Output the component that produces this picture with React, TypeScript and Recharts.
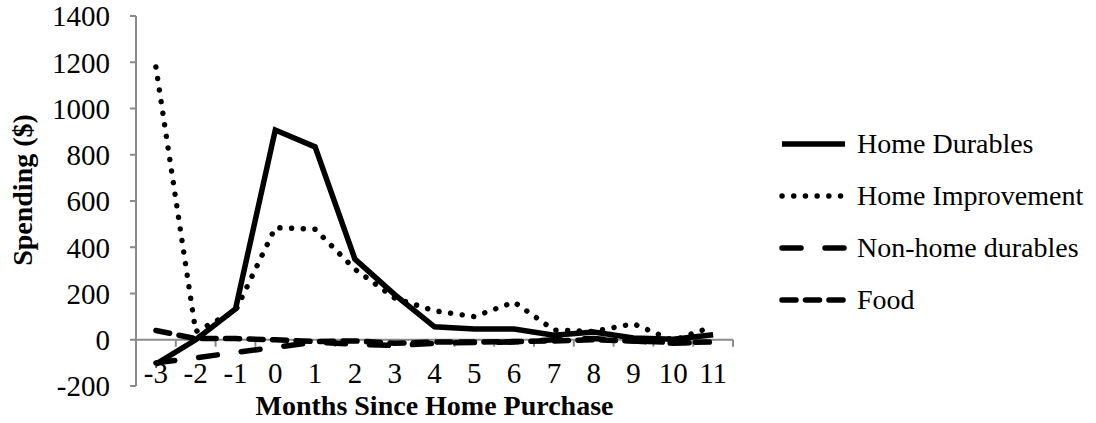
import React from 'react';
import { LineChart, Line, XAxis, YAxis, ReferenceLine, Legend, Label } from 'recharts';

const months = [-3, -2, -1, 0, 1, 2, 3, 4, 5, 6, 7, 8, 9, 10, 11];
const homeDurables = [-105, 0, 133, 907, 834, 349, 195, 56, 46, 46, 20, 33, 8, 2, 22];
const homeImprovement = [1180, 35, 125, 485, 478, 305, 180, 125, 100, 163, 42, 36, 69, -3, 58];
const nonHomeDurables = [-100, -78, -55, -33, -10, -20, -25, -15, -12, -10, 0, 5, -5, -15, -10];
const food = [40, 5, 5, 0, -8, -5, -15, -10, -10, -8, -5, 0, -5, -12, -10];
const yTicks = [-200, 0, 200, 400, 600, 800, 1000, 1200, 1400];

const data = months.map((m, i) => ({
  month: m,
  homeDurables: homeDurables[i],
  homeImprovement: homeImprovement[i],
  nonHomeDurables: nonHomeDurables[i],
  food: food[i],
}));

const FONT = "'Liberation Serif', Cambria, serif";
const AXIS = '#8a8a8a';

const series = [
  { key: 'homeDurables', name: 'Home Durables', dash: undefined, width: 5.5, cap: 'butt' },
  { key: 'homeImprovement', name: 'Home Improvement', dash: '0.1 11.6', width: 5.4, cap: 'round' },
  { key: 'nonHomeDurables', name: 'Non-home durables', dash: '19 24', width: 5.5, cap: 'round' },
  { key: 'food', name: 'Food', dash: '14 9.5', width: 5.5, cap: 'round' },
];

const XTick = ({ x, y, payload }: any) => (
  <text x={x} y={y - 3} textAnchor="middle" fontFamily={FONT} fontSize={29} fill="#000">
    {payload.value}
  </text>
);

const XTitle = ({ viewBox }: any) => (
  <text
    x={viewBox.x + viewBox.width / 2}
    y={viewBox.y + 29}
    textAnchor="middle"
    fontFamily={FONT}
    fontSize={28}
    fontWeight="bold"
    fill="#000"
  >
    Months Since Home Purchase
  </text>
);

const YTitle = ({ viewBox }: any) => {
  const cx = viewBox.x + 22;
  const cy = viewBox.y + viewBox.height / 2 - 11;
  return (
    <text
      x={cx}
      y={cy}
      transform={`rotate(-90, ${cx}, ${cy})`}
      textAnchor="middle"
      dominantBaseline="central"
      fontFamily={FONT}
      fontSize={28}
      fontWeight="bold"
      fill="#000"
    >
      Spending ($)
    </text>
  );
};

const LegendBox = () => (
  <div style={{ fontFamily: FONT, fontSize: 28, color: '#000' }}>
    {series.map((s) => (
      <div key={s.key} style={{ display: 'flex', alignItems: 'center', height: 52 }}>
        <svg width={78} height={52}>
          <line
            x1={3}
            x2={66}
            y1={26}
            y2={26}
            stroke="#000"
            strokeWidth={s.width}
            strokeDasharray={s.dash}
            strokeLinecap={s.cap as any}
          />
        </svg>
        <span style={{ lineHeight: '52px', whiteSpace: 'nowrap' }}>{s.name}</span>
      </div>
    ))}
  </div>
);

export default function App() {
  return (
    <div style={{ position: 'absolute', left: 0, top: 0, background: '#fff' }}>
      <LineChart width={1096} height={423} data={data} margin={{ top: 16, right: 363, bottom: 0, left: 0 }}>
        <XAxis
          dataKey="month"
          type="number"
          domain={[-3.5, 11.5]}
          ticks={months}
          interval={0}
          axisLine={false}
          tickLine={false}
          tickSize={0}
          tickMargin={0}
          height={37}
          tick={<XTick />}
        >
          <Label content={<XTitle />} />
        </XAxis>
        <YAxis
          domain={[-200, 1400]}
          ticks={yTicks}
          interval={0}
          width={136}
          axisLine={{ stroke: AXIS, strokeWidth: 2 }}
          tickLine={{ stroke: AXIS, strokeWidth: 2 }}
          tickSize={6}
          tickMargin={20}
          tick={{ fontFamily: FONT, fontSize: 29, fill: '#000' }}
        >
          <Label content={<YTitle />} />
        </YAxis>
        <ReferenceLine y={0} stroke={AXIS} strokeWidth={2} />
        {months.map((m) => (
          <ReferenceLine
            key={'b' + m}
            segment={[
              { x: m + 0.5, y: 0 },
              { x: m + 0.5, y: -30 },
            ]}
            stroke={AXIS}
            strokeWidth={2}
          />
        ))}
        {series.map((s) => (
          <Line
            key={s.key}
            dataKey={s.key}
            name={s.name}
            type="linear"
            stroke="#000"
            strokeWidth={s.width}
            strokeDasharray={s.dash}
            strokeLinecap={s.cap as any}
            dot={false}
            activeDot={false}
            isAnimationActive={false}
          />
        ))}
        <Legend
          layout="vertical"
          align="center"
          verticalAlign="middle"
          wrapperStyle={{ left: 779, top: 118, width: 317 }}
          content={<LegendBox />}
        />
      </LineChart>
    </div>
  );
}
